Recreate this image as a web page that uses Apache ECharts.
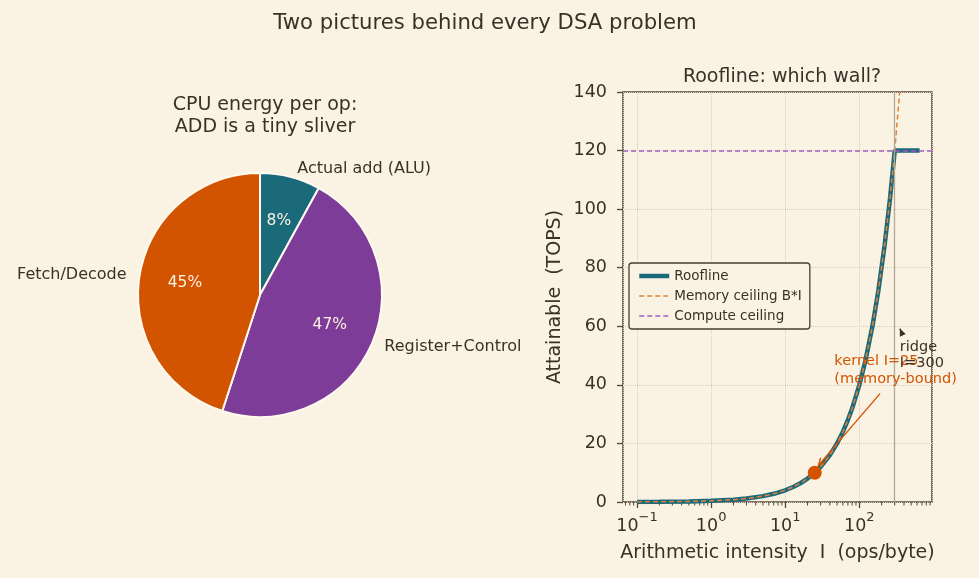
<!DOCTYPE html>
<html>
<head>
<meta charset="utf-8">
<script src="https://cdn.jsdelivr.net/npm/echarts@6/dist/echarts.min.js"></script>
<style>
  html, body { margin: 0; padding: 0; background: #faf3e3; }
  #chart { width: 979px; height: 578px; }
</style>
</head>
<body>
<div id="chart"></div>
<script>
// left panel: energy share per op
const energyNames = ['Actual add (ALU)', 'Register+Control', 'Fetch/Decode'];
const energyShare = [8, 47, 45];
const energyColors = ['#1b6a7a', '#7d3c98', '#d35400'];

// right panel: roofline (B = 0.4 TOPS per ops/byte, peak 120 TOPS)
const intensity = [0.1, 0.2, 0.5, 1, 2, 3, 5, 7, 10, 13, 16, 20, 25, 30, 40, 50, 60, 70, 80, 100, 120, 150, 180, 220, 260, 300, 650];
const attainable = [0.04, 0.08, 0.2, 0.4, 0.8, 1.2, 2, 2.8, 4, 5.2, 6.4, 8, 10, 12, 16, 20, 24, 28, 32, 40, 48, 60, 72, 88, 104, 120, 120];
const memIntensity = [0.1, 0.2, 0.5, 1, 2, 3, 5, 7, 10, 13, 16, 20, 25, 30, 40, 50, 60, 70, 80, 100, 120, 150, 180, 220, 260, 300, 350, 400];
const memCeiling = [0.04, 0.08, 0.2, 0.4, 0.8, 1.2, 2, 2.8, 4, 5.2, 6.4, 8, 10, 12, 16, 20, 24, 28, 32, 40, 48, 60, 72, 88, 104, 120, 140, 160];
const computePeak = 120;
const ridgeI = 300;
const kernel = [25, 10];
const minorTicks = [0.07, 0.08, 0.09, 0.2, 0.3, 0.4, 0.5, 0.6, 0.7, 0.8, 0.9, 2, 3, 4, 5, 6, 7, 8, 9,
  20, 30, 40, 50, 60, 70, 80, 90, 200, 300, 400, 500, 600, 700, 800, 900];
const yTicks = [0, 20, 40, 60, 80, 100, 120, 140];

const FONT = 'DejaVu Sans';
const INK = '#3b3028';
const FRAME = '#54463b';
const TEAL = '#1b6a7a';
const MEM = '#e0823d';
const PEAK = '#a25cc0';

const chart = echarts.init(document.getElementById('chart'));

const option = {
  backgroundColor: '#faf3e3',
  animation: false,
  textStyle: { fontFamily: FONT, color: INK },
  title: [
    { text: 'Two pictures behind every DSA problem', left: 480, top: 8, textAlign: 'center',
      textStyle: { fontFamily: FONT, fontSize: 21.2, fontWeight: 'normal', color: INK } },
    { text: 'CPU energy per op:\nADD is a tiny sliver', left: 260, top: 89, textAlign: 'center',
      textStyle: { fontFamily: FONT, fontSize: 19, fontWeight: 'normal', color: INK, lineHeight: 22 } },
    { text: 'Roofline: which wall?', left: 777, top: 63, textAlign: 'center',
      textStyle: { fontFamily: FONT, fontSize: 19, fontWeight: 'normal', color: INK } }
  ],
  legend: {
    data: [
      { name: 'Roofline', lineStyle: { width: 4.5, color: TEAL } },
      { name: 'Memory ceiling B*I', lineStyle: { width: 1.5, color: MEM, type: [5, 3] } },
      { name: 'Compute ceiling', lineStyle: { width: 1.5, color: PEAK, type: [5, 3] } }
    ],
    orient: 'vertical',
    left: 629, top: 263,
    itemWidth: 30, itemHeight: 12, itemGap: 6,
    padding: [6, 8, 6, 8],
    itemStyle: { opacity: 0 },
    backgroundColor: '#faf3e3',
    borderColor: '#4a3d33', borderWidth: 1.3, borderRadius: 3,
    textStyle: { fontFamily: FONT, fontSize: 13.5, color: INK }
  },
  grid: {
    show: true, left: 623, right: 47, top: 92, bottom: 76,
    borderColor: FRAME, borderWidth: 1.5, backgroundColor: 'transparent'
  },
  xAxis: {
    type: 'log', logBase: 10, min: 0.0647, max: 955,
    name: 'Arithmetic intensity  I  (ops/byte)',
    nameLocation: 'middle', nameGap: 42,
    nameTextStyle: { fontFamily: FONT, fontSize: 19, color: INK },
    axisLine: { show: false },
    axisTick: { show: true, length: 6, lineStyle: { color: FRAME, width: 1.3 } },
    splitLine: { show: true, lineStyle: { color: '#d5ccba', type: 'dotted', width: 1 } },
    axisLabel: {
      margin: 9, showMinLabel: false, showMaxLabel: false,
      formatter: function (v) {
        const e = Math.round(Math.log10(v));
        return '{b|10}{e|' + (e < 0 ? '\u2212' + (-e) : e) + '}';
      },
      rich: {
        b: { fontFamily: FONT, fontSize: 17.5, color: INK, lineHeight: 24, verticalAlign: 'bottom' },
        e: { fontFamily: FONT, fontSize: 13, color: INK, lineHeight: 14, verticalAlign: 'top' }
      }
    }
  },
  yAxis: {
    type: 'value', min: yTicks[0], max: yTicks[yTicks.length - 1], interval: 20,
    name: 'Attainable  (TOPS)',
    nameLocation: 'middle', nameGap: 58,
    nameTextStyle: { fontFamily: FONT, fontSize: 19, color: INK },
    axisLine: { show: false },
    axisTick: { show: true, length: 6, lineStyle: { color: FRAME, width: 1.3 } },
    splitLine: { show: true, lineStyle: { color: '#d5ccba', type: 'dotted', width: 1 } },
    axisLabel: { margin: 16, fontFamily: FONT, fontSize: 17.5, color: INK }
  },
  series: [
    {
      type: 'pie', name: 'energy',
      center: [260, 295], radius: 122,
      startAngle: 90, clockwise: true,
      avoidLabelOverlap: false,
      itemStyle: { borderColor: '#fffaf0', borderWidth: 2 },
      label: { show: true, position: 'outside', fontFamily: FONT, fontSize: 16, color: INK, formatter: '{b}' },
      labelLine: { show: false, length: 8, length2: 0 },
      emphasis: { disabled: true },
      data: energyNames.map((n, i) => ({ name: n, value: energyShare[i], itemStyle: { color: energyColors[i] } }))
    },
    {
      type: 'pie', name: 'energy pct', silent: true,
      center: [260, 295], radius: [0, 146],
      startAngle: 90, clockwise: true,
      itemStyle: { color: 'rgba(0,0,0,0)', borderWidth: 0 },
      label: { show: true, position: 'inside', fontFamily: FONT, fontSize: 15.5, color: '#fbf1e2',
        formatter: p => p.value + '%' },
      emphasis: { disabled: true },
      data: energyNames.map((n, i) => ({ name: n, value: energyShare[i] }))
    },
    {
      type: 'line', name: 'ridge', data: [], z: 1, silent: true,
      markLine: {
        silent: true, symbol: 'none', label: { show: false },
        lineStyle: { color: '#b3a999', type: 'solid', width: 1.3 },
        data: [{ xAxis: ridgeI }]
      }
    },
    {
      type: 'custom', name: 'minor ticks', silent: true, z: 1,
      data: minorTicks.map(v => [v, 0]),
      renderItem: function (params, api) {
        const p = api.coord([api.value(0), 0]);
        return { type: 'line', shape: { x1: p[0], y1: p[1], x2: p[0], y2: p[1] + 3.5 },
          style: { stroke: FRAME, lineWidth: 1 } };
      }
    },
    {
      type: 'line', name: 'Roofline', z: 2,
      data: intensity.map((x, i) => [x, attainable[i]]),
      symbol: 'none', smooth: false,
      lineStyle: { color: TEAL, width: 4.5 },
      itemStyle: { color: TEAL }
    },
    {
      type: 'line', name: 'Memory ceiling B*I', z: 3,
      data: memIntensity.map((x, i) => [x, memCeiling[i]]),
      symbol: 'none', smooth: false, clip: true,
      lineStyle: { color: MEM, width: 1.5, type: [5, 3] },
      itemStyle: { color: MEM }
    },
    {
      type: 'line', name: 'Compute ceiling', z: 3, data: [],
      symbol: 'none',
      lineStyle: { color: PEAK, width: 1.5, type: [5, 3] },
      itemStyle: { color: PEAK },
      markLine: {
        silent: true, symbol: 'none', label: { show: false },
        lineStyle: { color: PEAK, width: 1.5, type: [5, 3] },
        data: [{ yAxis: computePeak }]
      }
    },
    {
      type: 'scatter', name: 'kernel', z: 5,
      data: [kernel], symbolSize: 14,
      itemStyle: { color: '#d35400', opacity: 1 }
    }
  ]
};

chart.setOption(option);

// annotations placed from data coordinates
function px(pt) { return chart.convertToPixel({ gridIndex: 0 }, pt); }
function arrow(from, to, color, filled) {
  const a = px(from), b = px(to);
  const ang = Math.atan2(b[1] - a[1], b[0] - a[0]);
  const L = 8, w = 0.42;
  const h1 = [b[0] - L * Math.cos(ang - w), b[1] - L * Math.sin(ang - w)];
  const h2 = [b[0] - L * Math.cos(ang + w), b[1] - L * Math.sin(ang + w)];
  const out = [{ type: 'line', z: 10, shape: { x1: a[0], y1: a[1], x2: b[0], y2: b[1] },
    style: { stroke: color, lineWidth: 1.4 } }];
  if (filled) {
    out.push({ type: 'polygon', z: 10, shape: { points: [b, h1, h2] }, style: { fill: color } });
  } else {
    out.push({ type: 'polyline', z: 10, shape: { points: [h1, b, h2] }, style: { stroke: color, lineWidth: 1.4, fill: null } });
  }
  return out;
}

const kText = px([46, 51]);
const rText = px([352, 55.7]);
chart.setOption({
  graphic: [
    ...arrow([190, 37], [28, 12.5], '#d35400', false),
    ...arrow([372, 57.8], [352, 59.2], '#3b3028', true),
    { type: 'text', z: 10, x: kText[0], y: kText[1],
      style: { text: 'kernel I=25\n(memory-bound)', fill: '#d35400', font: '14.5px "DejaVu Sans"', lineHeight: 18,
        align: 'left', verticalAlign: 'top' } },
    { type: 'text', z: 10, x: rText[0], y: rText[1],
      style: { text: 'ridge\nI=300', fill: '#3b3028', font: '14.5px "DejaVu Sans"', lineHeight: 16,
        align: 'left', verticalAlign: 'top' } }
  ]
});
</script>
</body>
</html>
